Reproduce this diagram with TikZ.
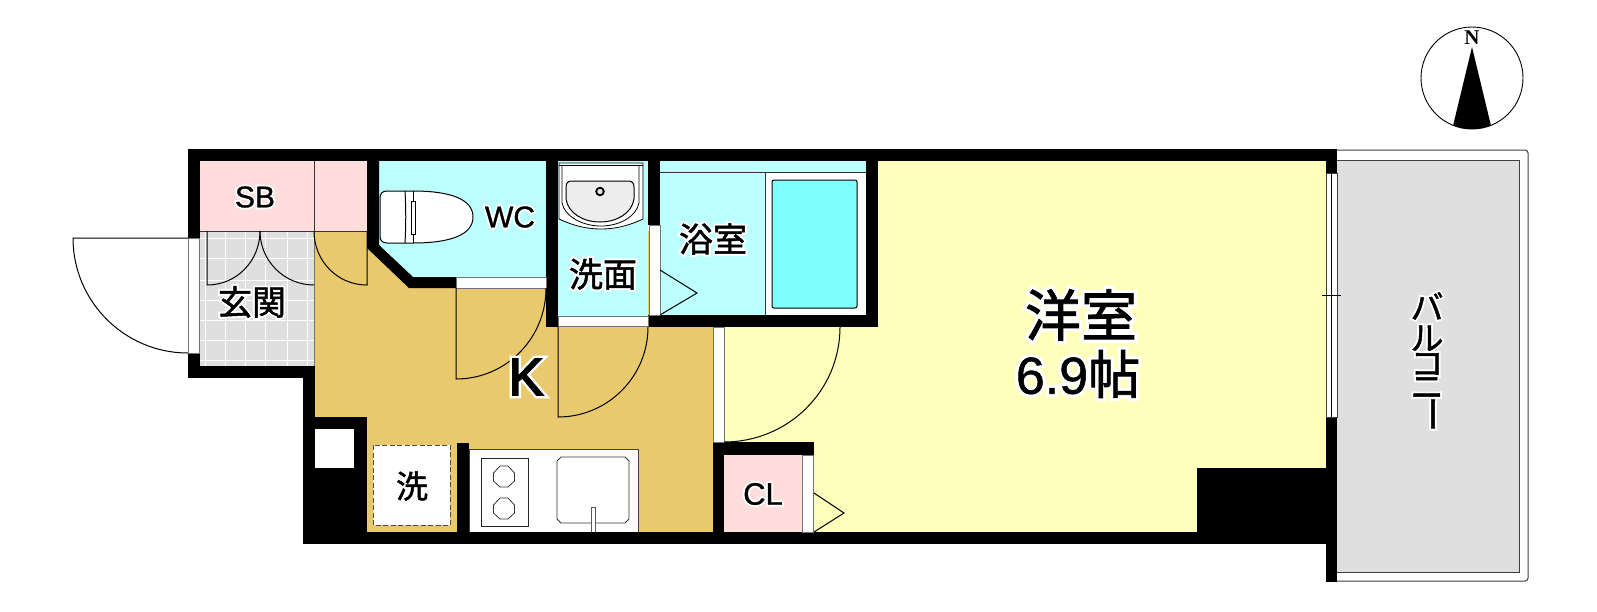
\documentclass[tikz,border=0pt]{standalone}
\usepackage{fontspec}
\usepackage{graphicx}
\setmainfont{Liberation Sans}
\newfontfamily\jp{Noto Sans CJK JP}
\newcommand{\halo}[2][1]{\leavevmode\rlap{\color{white}\addfontfeature{FakeBold=13}#2}{\addfontfeature{FakeBold=#1}#2}}
\newcommand{\sz}[1]{\fontsize{#1}{#1}\selectfont}
\newcommand{\balfont}{\sz{33}\jp\baselineskip=23pt\relax}
\definecolor{kitchenc}{HTML}{E8C96E}
\definecolor{wetc}{HTML}{BBFFFF}
\definecolor{tubc}{HTML}{80FFFF}
\definecolor{roomc}{HTML}{FFFFBB}
\definecolor{pinkc}{HTML}{FFDDDD}
\definecolor{grayc}{HTML}{DFDFDF}
\tikzset{
  wall/.style={fill=black,draw=none},
  swing/.style={draw=black,line width=1pt},
  strip/.style={fill=white,draw=black!55,line width=0.7pt},
  tag/.style={inner sep=0pt,anchor=center,text=black},
}
\begin{document}
\begin{tikzpicture}[x=1pt,y=-1pt]
\useasboundingbox (0,0) rectangle (1597,611);
% floors
\fill[kitchenc] (314,231) rectangle (713,532);
\fill[grayc] (200,231) rectangle (314,366);
\foreach \gx in {205,225,245,265,287,307}{\draw[white,line width=1pt] (\gx,231) -- (\gx,366);}
\foreach \gy in {238,258,280,300,320,340,360}{\draw[white,line width=1pt] (200,\gy) -- (314,\gy);}
\draw[black!55,line width=0.8pt] (314,231) -- (314,366);
\fill[pinkc] (200,161) rectangle (367,231);
\draw[black!80,line width=0.9pt] (314,161) -- (314,231);
\draw[black!80,line width=0.9pt] (200,231) -- (367,231);
\fill[wetc] (379,161) -- (546,161) -- (546,277) -- (413,277) -- (379,245) -- cycle;
\fill[wetc] (558,161) rectangle (648,316);
\fill[wetc] (660,161) rectangle (866,315);
\fill[roomc] (878,161) rectangle (1326,532);
\fill[roomc] (724,327) rectangle (878,532);
\fill[pinkc] (724,455) rectangle (802,532);
% balcony
\draw[black!75,line width=1pt,rounded corners=3pt,fill=white] (1330,150) -- (1528,150) -- (1528,581) -- (1330,581);
\fill[grayc] (1337,160) rectangle (1519,572);
\draw[black!75,line width=0.9pt] (1337,160) -- (1519,160) -- (1519,572) -- (1337,572);
% toilet
\draw[fill=white,draw=black,line width=1pt] (387,191) -- (413,191) .. controls (450,191) and (473,199) .. (473,217) .. controls (473,235) and (450,243) .. (413,243) -- (387,243) .. controls (382,243) and (380,240) .. (380,236) -- (380,198) .. controls (380,194) and (382,191) .. (387,191) -- cycle;
\draw[black,line width=1pt] (405,191) .. controls (406,208) and (406,226) .. (405,243);
\draw[black,line width=1pt] (413,191) -- (413,201) (413,234) -- (413,243);
\draw[fill=white,draw=black,line width=0.8pt] (411,201) rectangle (415,234);
% sink
\draw[fill=white,draw=black,line width=0.8pt] (559,163) -- (643,163) -- (643,219) .. controls (628,226) and (615,229) .. (601,229) .. controls (587,229) and (574,226) .. (559,219) -- cycle;
\draw[black,line width=0.8pt] (559,165) -- (643,165);
\draw[black,line width=0.8pt] (562,165) -- (562,203) .. controls (565,217) and (583,226) .. (601,226) .. controls (619,226) and (636,217) .. (639,203) -- (639,165);
\draw[fill=black!7,draw=black,line width=1pt] (572,181) -- (628,181) .. controls (632,181) and (634,183) .. (634,187) -- (634,199) .. controls (632,213) and (617,222) .. (600,222) .. controls (583,222) and (568,213) .. (566,199) -- (566,187) .. controls (566,183) and (568,181) .. (572,181) -- cycle;
\draw[fill=black!10,draw=black,line width=1.8pt] (600,191.5) circle[radius=3.8pt];
% bath
\draw[black!80,line width=0.8pt] (660,172) -- (866,172);
\draw[fill=white,draw=black!80,line width=0.8pt] (765,172) rectangle (866,315);
\draw[fill=tubc,draw=black,line width=1pt,rounded corners=2pt] (772,180) rectangle (857,308);
% kitchen fixtures
\draw[fill=white,draw=black!75,line width=0.9pt] (469,449) rectangle (638,532);
\draw[black!85,line width=0.9pt] (481,458) rectangle (528,526);
\draw[black!80,line width=0.8pt] (500,466) -- (508,466) -- (514.5,473) -- (514.5,481) -- (508,487) -- (500,487) -- (493.5,481) -- (493.5,473) -- cycle;
\draw[black!80,line width=0.8pt] (500,498) -- (508,498) -- (514.5,505) -- (514.5,513) -- (508,519) -- (500,519) -- (493.5,513) -- (493.5,505) -- cycle;
\draw[black!80,line width=0.8pt] (561,457) -- (625,457) -- (629,461) -- (629,519) -- (625,523) -- (561,523) -- (557,519) -- (557,461) -- cycle;
\draw[fill=white,draw=black!65,line width=0.8pt] (591,532) -- (591,507) -- (595,507) -- (595,532);
\draw[fill=white,draw=black!70,line width=0.9pt,dash pattern=on 5pt off 2.5pt] (373,445) rectangle (450,525);
% walls
\fill[wall] (188,149) rectangle (1337,161);
\fill[wall] (188,149) rectangle (200,238);
\fill[wall] (188,353) rectangle (200,378);
\fill[wall] (188,366) rectangle (315,378);
\fill[wall] (303,366) rectangle (315,544);
\fill[wall] (303,417) rectangle (367,544);
\fill[white] (315,429) rectangle (354,468);
\fill[wall] (303,532) rectangle (1337,544);
\fill[wall] (367,149) -- (379,149) -- (379,245) -- (413,277) -- (456,277) -- (456,288) -- (409,288) -- (367,248) -- cycle;
\fill[wall] (546,149) rectangle (558,327);
\fill[wall] (648,149) rectangle (660,225);
\fill[wall] (648,315) rectangle (878,327);
\fill[wall] (866,149) rectangle (878,327);
\fill[wall] (457,443) rectangle (469,544);
\fill[wall] (1326,149) rectangle (1337,173);
\fill[wall] (1326,417) rectangle (1337,582);
\fill[wall] (1197,468) rectangle (1326,544);
\fill[wall] (713,442) rectangle (814,455);
\fill[wall] (713,442) rectangle (724,544);
% openings
\draw[strip] (188,238) rectangle (199,353);
\draw[strip] (456,277) rectangle (546,288);
\draw[strip] (558,316) rectangle (648,326);
\draw[strip] (649,225) rectangle (660,315);
\draw[strip] (713,327) rectangle (724,442);
\draw[strip] (802,455) rectangle (813,532);
\draw[fill=white,draw=black!75,line width=0.8pt] (1326,173) rectangle (1337,417);
\draw[black,line width=0.9pt] (1331.5,173) -- (1331.5,417);
\draw[black,line width=0.9pt] (1322,295) -- (1341,295);
% doors
\draw[swing] (188,238) -- (73,238) .. controls (73,301.5) and (124.5,353) .. (188,353);
\draw[swing] (207,231) -- (207,285) .. controls (236.8,285) and (260,260.8) .. (260,231);
\draw[swing] (260,231) .. controls (260,260.8) and (284.2,285) .. (314,285);
\draw[swing] (314,231) .. controls (314,260.8) and (337.2,285) .. (367,285) -- (367,231);
\draw[swing] (456,288) -- (456,379) .. controls (505.7,379) and (546,338.7) .. (546,288);
\draw[swing] (558,327) -- (558,417) .. controls (607.7,417) and (648,376.7) .. (648,327);
\draw[swing] (660,270) -- (697,293) -- (660,315);
\draw[swing] (724,442) .. controls (788,442) and (840,391) .. (840,327);
\draw[swing] (814,493) -- (844,513) -- (814,532);
% north mark
\begin{scope}
\clip (1472,78) circle[radius=51pt];
\fill[black] (1472,47) -- (1452,130) -- (1492,130) -- cycle;
\end{scope}
\draw[black,line width=0.9pt] (1472,78) circle[radius=51pt];
% labels
\node[tag] (sb) at (255,197) {\sz{30}\halo{SB}};
\node[tag] (genkan) at (252,302) {\sz{34}\jp\halo[1.5]{玄関}};
\node[tag] (wc) at (510,217) {\sz{30}\halo{WC}};
\node[tag] (senmen) at (603,274) {\sz{34}\jp\halo[1.5]{洗面}};
\node[tag] (yokushitsu) at (713,239) {\sz{34}\jp\halo[1.5]{浴室}};
\node[tag] (k) at (526,377) {\sz{52}\halo[3.5]{K}};
\node[tag] (sen) at (412,486) {\sz{32}\jp\addfontfeature{FakeBold=1.5}洗};
\node[tag] (cl) at (763,494) {\sz{31}\halo{CL}};
\node[tag] (yoshitsu) at (1081,315) {\sz{56}\jp\halo[1.5]{洋室}};
\node[tag] (size) at (1078,374) {\sz{52}\halo{6.9}{\jp\halo[1.5]{帖}}};
\node[tag,align=center,font=\balfont] (balcony) at (1427,357) {\halo[1.5]{バ}\\[5pt]\halo[1.5]{ル}\\[1pt]\halo[1.5]{コ}\\\halo[1.5]{ニ}\\\smash{\rotatebox[origin=c]{-90}{\sz{36}\halo[1.5]{ー}}}};
\node[tag] (north) at (1472,38) {\sz{21}\fontspec{Liberation Serif}\bfseries N};
\end{tikzpicture}
\end{document}
